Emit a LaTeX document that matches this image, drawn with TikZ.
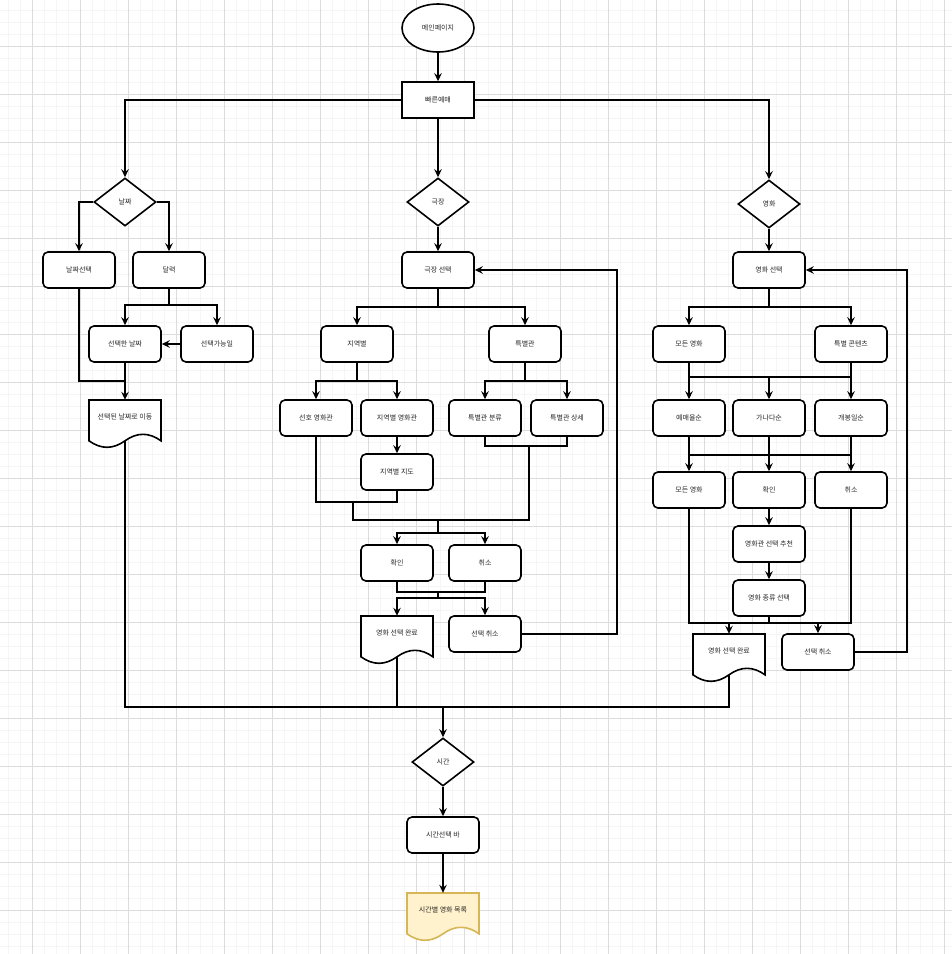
\documentclass[tikz,border=0pt]{standalone}
\usepackage{fontspec}
\setmainfont{Noto Sans CJK KR}
\usepackage{tikz}
\usetikzlibrary{arrows.meta,shapes.geometric,calc}
\definecolor{gridminor}{RGB}{245,245,245}
\definecolor{gridmajor}{RGB}{220,220,220}
\definecolor{docfill}{RGB}{255,242,204}
\definecolor{docedge}{RGB}{214,182,86}
\definecolor{labelgray}{RGB}{40,40,40}

\tikzset{
  boxtext/.style={font=\fontsize{7}{8}\selectfont, text=labelgray},
  procbox/.style={boxtext, draw, fill=white, line width=1.6pt, rounded corners=5pt,
    minimum width=72pt, minimum height=36pt, inner sep=0pt},
  plainbox/.style={procbox, rounded corners=0pt},
  choice/.style={boxtext, diamond, draw, fill=white, line width=1.6pt,
    minimum width=62pt, minimum height=48pt, inner sep=0pt},
  startnode/.style={boxtext, ellipse, draw, fill=white, line width=1.6pt,
    minimum width=72pt, minimum height=48pt, inner sep=0pt},
  docbox/.style={boxtext, minimum width=72pt, minimum height=33.6pt, inner sep=0pt},
  docline/.style={draw, fill=white, line width=1.6pt},
  wire/.style={line width=1.6pt},
  flow/.style={wire, -{Stealth[length=8pt, width=7.5pt, inset=2.8pt]}}
}

% document shape: outline first, then the label node
\newcommand{\docnode}[5][]{%
  \draw[docline, #1, shift={(#3-36,#4)}] (0,0) -- (72,0) -- (72,40.8)
    .. controls (60,32.16) and (48,32.16) .. (36,40.8)
    .. controls (24,49.44) and (12,49.44) .. (0,40.8) -- cycle;
  \node[docbox] (#2) at (#3,#4+16.8) {#5};}

\begin{document}
\begin{tikzpicture}[x=1pt, y=-1pt]
  \useasboundingbox (0,0) rectangle (952,954);
  \fill[white] (0,0) rectangle (952,954);
  % grid
  \foreach \gx in {8,20,...,944} \draw[gridminor, line width=0.8pt] (\gx,0) -- (\gx,954);
  \foreach \gy in {10,22,...,946} \draw[gridminor, line width=0.8pt] (0,\gy) -- (952,\gy);
  \foreach \gx in {32,80,...,944} \draw[gridmajor, line width=0.8pt] (\gx,0) -- (\gx,954);
  \foreach \gy in {46,94,...,910} \draw[gridmajor, line width=0.8pt] (0,\gy) -- (952,\gy);

  % top
  \node[startnode] (main) at (438,28) {메인페이지};
  \node[plainbox] (quick) at (438,100) {빠른예매};
  \node[choice] (dDate) at (125,202) {날짜};
  \node[choice] (dThea) at (438,202) {극장};
  \node[choice] (dMovie) at (769,204) {영화};

  % date branch
  \node[procbox] (dateSel) at (79,270) {날짜선택};
  \node[procbox] (cal) at (169,270) {달력};
  \node[procbox] (picked) at (125,344) {선택한 날짜};
  \node[procbox] (avail) at (217,344) {선택가능일};
  \docnode{goDate}{125}{400}{선택된 날짜로 이동}

  % theatre branch
  \node[procbox] (theaSel) at (438,270) {극장 선택};
  \node[procbox] (region) at (357,344) {지역별};
  \node[procbox] (special) at (525,344) {특별관};
  \node[procbox] (fav) at (316,418) {선호 영화관};
  \node[procbox] (regThea) at (397,418) {지역별 영화관};
  \node[procbox] (spType) at (485,418) {특별관 분류};
  \node[procbox] (spInfo) at (567,418) {특별관 상세};
  \node[procbox] (regMap) at (397,472) {지역별 지도};
  \node[procbox] (okT) at (397,563) {확인};
  \node[procbox] (noT) at (485,563) {취소};
  \docnode{doneT}{397}{616}{영화 선택 완료}
  \node[procbox] (cancT) at (485,634) {선택 취소};

  % movie branch
  \node[procbox] (movSel) at (769,270) {영화 선택};
  \node[procbox] (allMov) at (689,344) {모든 영화};
  \node[procbox] (spCont) at (851,344) {특별 콘텐츠};
  \node[procbox] (rate) at (689,418) {예매율순};
  \node[procbox] (abc) at (769,418) {가나다순};
  \node[procbox] (release) at (851,418) {개봉일순};
  \node[procbox] (allMovB) at (689,490) {모든 영화};
  \node[procbox] (okM) at (769,490) {확인};
  \node[procbox] (noM) at (851,490) {취소};
  \node[procbox] (recom) at (769,544) {영화관 선택 추천};
  \node[procbox] (kind) at (769,598) {영화 종류 선택};
  \docnode{doneM}{729}{634}{영화 선택 완료}
  \node[procbox] (cancM) at (818,652) {선택 취소};

  % bottom
  \node[choice] (dTime) at (443,762) {시간};
  \node[procbox] (timeBar) at (443,835) {시간선택 바};
  \docnode[draw=docedge, fill=docfill]{list}{443}{893}{시간별 영화 목록}

  % junctions
  \coordinate (jCal) at (169,305);
  \coordinate (jDate) at (125,381);
  \coordinate (jTime) at (443,707);
  \coordinate (jThea) at (438,307);
  \coordinate (jReg) at (357,381);
  \coordinate (jSp) at (525,381);
  \coordinate (jSpB) at (529,446);
  \coordinate (jL) at (353,502);
  \coordinate (jBot) at (438,520);
  \coordinate (jOk) at (438,533);
  \coordinate (jOkB) at (438,592);
  \coordinate (jDone) at (438,598);
  \coordinate (rT) at (617,634);
  \coordinate (jMov) at (769,307);
  \coordinate (jSort) at (769,377);
  \coordinate (jPick) at (769,455);
  \coordinate (jFin) at (769,623);
  \coordinate (rM) at (907,652);

  % connectors: top
  \draw[flow] (main) -- (quick);
  \draw[flow] (quick.west) -| (dDate.north);
  \draw[flow] (quick) -- (dThea);
  \draw[flow] (quick.east) -| (dMovie.north);

  % connectors: date
  \draw[flow] (dDate.west) -| (dateSel.north);
  \draw[flow] (dDate.east) -| (cal.north);
  \draw[wire] (cal) -- (jCal);
  \draw[flow] (jCal) -| (picked.north);
  \draw[flow] (jCal) -| (avail.north);
  \draw[flow] (avail) -- (picked);
  \draw[wire] (dateSel.south) |- (jDate);
  \draw[flow] (picked) -- (goDate.north);
  \draw[wire] ($(goDate.south)+(0,7.2)$) |- (jTime);

  % connectors: theatre
  \draw[flow] (dThea) -- (theaSel);
  \draw[wire] (theaSel) -- (jThea);
  \draw[flow] (jThea) -| (region.north);
  \draw[flow] (jThea) -| (special.north);
  \draw[wire] (region) -- (jReg);
  \draw[flow] (jReg) -| (fav.north);
  \draw[flow] (jReg) -| (regThea.north);
  \draw[wire] (special) -- (jSp);
  \draw[flow] (jSp) -| (spType.north);
  \draw[flow] (jSp) -| (spInfo.north);
  \draw[flow] (regThea) -- (regMap);
  \draw[wire] (spType.south) |- (jSpB) -| (spInfo.south);
  \draw[wire] (fav.south) |- (jL) -| (regMap.south);
  \draw[wire] (jL) |- (jBot) -| (jSpB);
  \draw[wire] (jBot) -- (jOk);
  \draw[flow] (jOk) -| (okT.north);
  \draw[flow] (jOk) -| (noT.north);
  \draw[wire] (okT.south) |- (jOkB) -| (noT.south);
  \draw[wire] (jOkB) -- (jDone);
  \draw[flow] (jDone) -| (doneT.north);
  \draw[flow] (jDone) -| (cancT.north);
  \draw[flow] (cancT.east) -- (rT) |- (theaSel.east);
  \draw[wire] ($(doneT.south)+(0,7.2)$) |- (jTime);

  % connectors: movie
  \draw[flow] (dMovie) -- (movSel);
  \draw[wire] (movSel) -- (jMov);
  \draw[flow] (jMov) -| (allMov.north);
  \draw[flow] (jMov) -| (spCont.north);
  \draw[flow] (allMov) -- (rate);
  \draw[flow] (spCont) -- (release);
  \draw[wire] (allMov.south |- jSort) -- (spCont.south |- jSort);
  \draw[flow] (jSort) -- (abc);
  \draw[flow] (rate) -- (allMovB);
  \draw[flow] (abc) -- (okM);
  \draw[flow] (release) -- (noM);
  \draw[wire] (rate.south |- jPick) -- (release.south |- jPick);
  \draw[flow] (okM) -- (recom);
  \draw[flow] (recom) -- (kind);
  \draw[wire] (allMovB.south) |- (jFin) -| (noM.south);
  \draw[wire] (kind) -- (jFin);
  \draw[flow] (doneM.north |- jFin) -- (doneM.north);
  \draw[flow] (cancM.north |- jFin) -- (cancM.north);
  \draw[flow] (cancM.east) -- (rM) |- (movSel.east);
  \draw[wire] ($(doneM.south)+(0,7.2)$) |- (jTime);

  % connectors: time
  \draw[flow] (jTime) -- (dTime.north);
  \draw[flow] (dTime) -- (timeBar);
  \draw[flow] (timeBar) -- (list.north);
\end{tikzpicture}
\end{document}
